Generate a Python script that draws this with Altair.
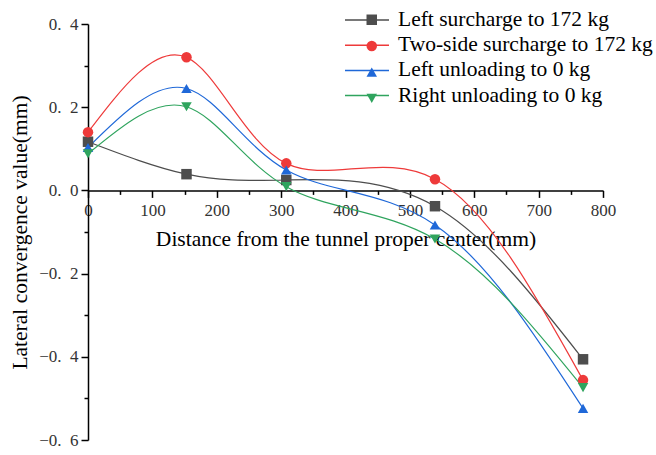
import altair as alt
import pandas as pd

# ---- data ----
distance = [0, 153, 308, 539, 769]
series_names = [
    "Left surcharge to 172 kg",
    "Two-side surcharge to 172 kg",
    "Left unloading to 0 kg",
    "Right unloading to 0 kg",
]
left_surcharge = [0.117, 0.039, 0.025, -0.038, -0.406]
two_side_surcharge = [0.140, 0.320, 0.065, 0.027, -0.456]
left_unloading = [0.103, 0.245, 0.049, -0.083, -0.524]
right_unloading = [0.088, 0.201, 0.009, -0.117, -0.474]

colors = ["#4d4d4d", "#ee3a3a", "#1f68d8", "#2fa45e"]
shapes = ["square", "circle", "triangle-up", "triangle-down"]

x_major = [0, 100, 200, 300, 400, 500, 600, 700, 800]
x_minor = [50, 150, 250, 350, 450, 550, 650, 750]
y_major = [-0.6, -0.4, -0.2, 0.0, 0.2, 0.4]
y_minor = [-0.5, -0.3, -0.1, 0.1, 0.3]

rows = []
for name, vals in zip(series_names, [left_surcharge, two_side_surcharge, left_unloading, right_unloading]):
    for xv, yv in zip(distance, vals):
        rows.append({"series": name, "key": name, "x": xv, "y": yv})
df = pd.DataFrame(rows)

W, H = 515, 416
ydom = [-0.6, 0.4]
x_axis_offset = -(0 - ydom[0]) / (ydom[1] - ydom[0]) * H  # move x axis to y = 0

serif = "Liberation Serif"
TITLE_FS = 21.5
LEG_FS = 21.5
TICK_FS = 17
ROW_PAD = 3.2

x_scale = alt.Scale(domain=[0, 800], nice=False, zero=False)
y_scale = alt.Scale(domain=ydom, nice=False, zero=False)

lines = alt.Chart(df).mark_line(interpolate="natural", strokeWidth=1.2).encode(
    x=alt.X("x:Q", scale=x_scale, axis=alt.Axis(
        orient="bottom", offset=x_axis_offset, values=x_major, format="d",
        title="Distance from the tunnel proper center(mm)",
        titleFont=serif, titleFontSize=TITLE_FS, titleFontWeight="normal", titleColor="#000",
        titlePadding=10,
        labelFont=serif, labelFontSize=TICK_FS, labelColor="#333", labelPadding=5,
        tickSize=7, tickColor="#000", domainColor="#000", domainWidth=1.5, tickWidth=1.5,
        grid=False, labelFlush=False, labelOverlap=False)),
    y=alt.Y("y:Q", scale=y_scale, axis=alt.Axis(
        orient="left", values=y_major,
        labelExpr="replace(format(datum.value, '.1f'), '.', '.\u2002')",
        title="Lateral convergence value(mm)",
        titleFont=serif, titleFontSize=TITLE_FS, titleFontWeight="normal", titleColor="#000",
        titlePadding=7,
        labelFont=serif, labelFontSize=TICK_FS, labelColor="#333", labelPadding=3,
        tickSize=7, tickColor="#000", domainColor="#000", domainWidth=1.5, tickWidth=1.5,
        grid=False, labelFlush=False, labelOverlap=False)),
    color=alt.Color("series:N", scale=alt.Scale(domain=series_names, range=colors),
                    legend=alt.Legend(
                        title=None, orient="none", legendX=268, legendY=-15,
                        symbolType="M-2.2,0H2.2", symbolSize=400, symbolStrokeWidth=1.5,
                        labelFont=serif, labelFontSize=LEG_FS, labelColor="#000",
                        labelOffset=20, rowPadding=ROW_PAD, labelLimit=400)),
    order=alt.Order("x:Q"),
)

points = alt.Chart(df).mark_point(filled=True, opacity=1, size=110).encode(
    x=alt.X("x:Q", scale=x_scale, axis=alt.Axis(
        orient="bottom", offset=x_axis_offset, values=x_minor, labels=False, title=None,
        tickSize=4, tickColor="#000", tickWidth=1.5, domain=False, grid=False)),
    y=alt.Y("y:Q", scale=y_scale, axis=alt.Axis(
        orient="left", values=y_minor, labels=False, title=None,
        tickSize=4, tickColor="#000", tickWidth=1.5, domain=False, grid=False)),
    color=alt.Color("key:N", scale=alt.Scale(domain=series_names, range=colors),
                    legend=alt.Legend(
                        title=None, orient="none", legendX=273, legendY=-15,
                        symbolSize=110, symbolOpacity=1, labelExpr="''",
                        labelFont=serif, labelFontSize=LEG_FS, labelColor="transparent",
                        labelOffset=20, rowPadding=ROW_PAD, labelLimit=400)),
    shape=alt.Shape("key:N", scale=alt.Scale(domain=series_names, range=shapes),
                    legend=alt.Legend(
                        title=None, orient="none", legendX=273, legendY=-15,
                        symbolSize=110, symbolOpacity=1, labelExpr="''",
                        labelFont=serif, labelFontSize=LEG_FS, labelColor="transparent",
                        labelOffset=20, rowPadding=ROW_PAD, labelLimit=400)),
)

chart = alt.layer(lines, points).resolve_scale(
    color="independent", shape="independent"
).resolve_axis(
    x="independent", y="independent"
).properties(
    width=W, height=H,
    autosize=alt.AutoSizeParams(type="none"),
    padding={"left": 88, "top": 24, "right": 53, "bottom": 15},
    background="white",
).configure_view(stroke=None)

chart.save("out.html", embed_options={"renderer": "svg", "actions": False})
